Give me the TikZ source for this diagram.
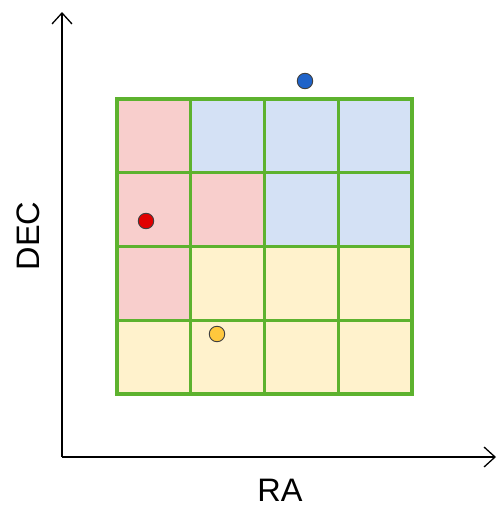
\documentclass[tikz,border=0pt]{standalone}
\usepackage{fontspec}
\setmainfont{Liberation Sans}
\usetikzlibrary{arrows.meta}
\definecolor{cred}{HTML}{F8CECC}
\definecolor{cblue}{HTML}{D4E1F5}
\definecolor{cyel}{HTML}{FFF2CC}
\definecolor{cgreen}{HTML}{5DB22E}
\definecolor{dblue}{HTML}{1F63C9}
\definecolor{dred}{HTML}{E00000}
\definecolor{dyel}{HTML}{FFC83D}
\begin{document}
\begin{tikzpicture}[x=1pt,y=-1pt,
  axis/.style={line width=1.3pt, -{Straight Barb[length=11pt,width=20pt,line width=1.3pt]}},
  cellr/.style={fill=cred},
  cellb/.style={fill=cblue},
  celly/.style={fill=cyel},
  gridl/.style={draw=cgreen, line width=3.2pt, line cap=rect},
  dot/.style={circle, draw=black!75, line width=0.9pt, minimum size=15.5pt, inner sep=0pt},
  lab/.style={font=\fontsize{32.5}{32.5}\selectfont, inner sep=0pt}]
\useasboundingbox (0,0) rectangle (497,506);
% cells
\def\c{73.75}
\foreach \col/\row/\s in {0/0/cellr,1/0/cellb,2/0/cellb,3/0/cellb,
  0/1/cellr,1/1/cellr,2/1/cellb,3/1/cellb,
  0/2/cellr,1/2/celly,2/2/celly,3/2/celly,
  0/3/celly,1/3/celly,2/3/celly,3/3/celly}
  \path[\s] ({117+\col*\c},{99+\row*\c}) rectangle ++(\c,\c);
\foreach \i in {0,...,4}{
  \draw[gridl] ({117+\i*\c},99) -- ({117+\i*\c},394);
  \draw[gridl] (117,{99+\i*\c}) -- (412,{99+\i*\c});
}
% axes
\coordinate (o) at (62,457);
\coordinate (ytip) at (62,12);
\coordinate (xtip) at (496,457);
\draw[axis] (o) -- (ytip);
\draw[axis] (o) -- (xtip);
% labels
\node[lab, rotate=90] (dec) at (28.5,236) {DEC};
\node[lab] (ra) at (280,490.5) {RA};
% dots
\node[dot, fill=dblue] (pb) at (305,81) {};
\node[dot, fill=dred] (pr) at (146,221) {};
\node[dot, fill=dyel] (py) at (217,334) {};
\end{tikzpicture}
\end{document}
